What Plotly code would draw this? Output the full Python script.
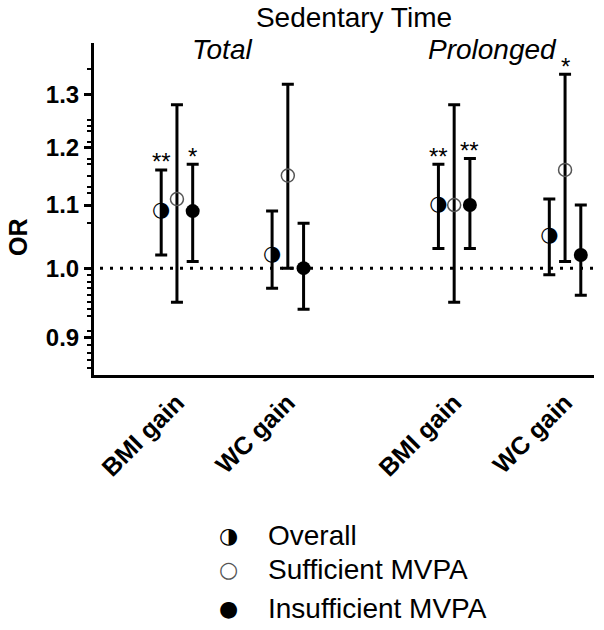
import math
import plotly.graph_objects as go

# ---------------- data ----------------
outcomes = ["BMI gain", "WC gain", "BMI gain", "WC gain"]
panels = ["Total", "Prolonged"]

overall_or = [1.09, 1.02, 1.10, 1.05]
overall_lo = [1.02, 0.97, 1.03, 0.99]
overall_hi = [1.16, 1.09, 1.17, 1.11]
overall_sig = ["**", "", "**", ""]

suff_or = [1.11, 1.15, 1.10, 1.16]
suff_lo = [0.95, 1.00, 0.95, 1.01]
suff_hi = [1.28, 1.32, 1.28, 1.34]
suff_sig = ["", "", "", "*"]

insuff_or = [1.09, 1.00, 1.10, 1.02]
insuff_lo = [1.01, 0.94, 1.03, 0.96]
insuff_hi = [1.17, 1.07, 1.18, 1.10]
insuff_sig = ["*", "", "**", ""]

y_ticks = [0.9, 1.0, 1.1, 1.2, 1.3]
y_ticktext = ["0.9", "1.0", "1.1", "1.2", "1.3"]
null_or = 1.0

series_names = ["Overall", "Sufficient MVPA", "Insufficient MVPA"]

# ---------------- layout helpers ----------------
group_x = [0, 1, 2.5, 3.5]
offset = 0.142
FONT = "Arial, Liberation Sans, sans-serif"
SYM_FONT = "DejaVu Sans"

def xs(shift):
    return [g + shift for g in group_x]

def err(vals, lo, hi):
    return dict(type="data", symmetric=False,
                array=[h - v for v, h in zip(vals, hi)],
                arrayminus=[v - l for v, l in zip(vals, lo)],
                color="black", thickness=3, width=6)

fig = go.Figure()

# Overall (half-filled circle)
fig.add_trace(go.Scatter(
    x=xs(-offset), y=overall_or, mode="markers", name=series_names[0],
    marker=dict(size=2, color="rgba(0,0,0,0)"),
    error_y=err(overall_or, overall_lo, overall_hi), showlegend=False))
fig.add_trace(go.Scatter(
    x=xs(-offset), y=overall_or, mode="text", text=["\u25D1"] * len(overall_or),
    textposition="middle center", name=series_names[0],
    textfont=dict(family=SYM_FONT, size=21, color="black"), showlegend=False))

# Sufficient MVPA (open circle)
fig.add_trace(go.Scatter(
    x=xs(0), y=suff_or, mode="markers", name=series_names[1],
    marker=dict(symbol="circle-open", size=13, color="#555555",
                line=dict(width=1.5, color="#555555")),
    error_y=err(suff_or, suff_lo, suff_hi), showlegend=False))

# Insufficient MVPA (filled circle)
fig.add_trace(go.Scatter(
    x=xs(offset), y=insuff_or, mode="markers", name=series_names[2],
    marker=dict(symbol="circle", size=14, color="black"),
    error_y=err(insuff_or, insuff_lo, insuff_hi), showlegend=False))

# significance asterisks
annotations = []
for shift, sigs, his in [(-offset, overall_sig, overall_hi),
                         (0, suff_sig, suff_hi),
                         (offset, insuff_sig, insuff_hi)]:
    for gx, s, h in zip(group_x, sigs, his):
        if s:
            annotations.append(dict(
                x=gx + shift, y=math.log10(h), xref="x", yref="y", text=s,
                showarrow=False, xanchor="center", yanchor="middle", yshift=8,
                font=dict(family=FONT, size=24, color="black")))

# panel labels
annotations.append(dict(x=0.256, y=1, xref="paper", yref="paper", text="<i>Total</i>",
                        showarrow=False, xanchor="center", yanchor="middle", yshift=-6,
                        font=dict(family=FONT, size=28, color="black")))
annotations.append(dict(x=0.796, y=1, xref="paper", yref="paper", text="<i>Prolonged</i>",
                        showarrow=False, xanchor="center", yanchor="middle", yshift=-6,
                        font=dict(family=FONT, size=28, color="black")))

# y-axis title
annotations.append(dict(x=0, y=0.416, xref="paper", yref="paper", text="<b>OR</b>",
                        textangle=-90, showarrow=False, xanchor="center", xshift=-76,
                        font=dict(family=FONT, size=25, color="black")))

# manual legend
legend_syms = ["\u25D1", "\u25CB", "\u25CF"]
legend_y = [-0.482, -0.587, -0.702]
for sym, name, ly in zip(legend_syms, series_names, legend_y):
    annotations.append(dict(x=0.268, y=ly, xref="paper", yref="paper", text=sym,
                            showarrow=False, xanchor="center", yanchor="middle",
                            font=dict(family=SYM_FONT, size=22,
                                      color="#555555" if sym == "\u25CB" else "black")))
    annotations.append(dict(x=0.344, y=ly, xref="paper", yref="paper", text=name,
                            showarrow=False, xanchor="left", yanchor="middle",
                            font=dict(family=FONT, size=28, color="black")))

fig.add_shape(type="line", xref="paper", x0=0.012, x1=1, yref="y",
              y0=null_or, y1=null_or, line=dict(color="black", width=3, dash="3px,7px"))

minor_vals = [0.86, 0.87, 0.88, 0.89, 0.91, 0.93, 0.94, 0.95, 0.96, 0.97, 0.98, 0.99,
              1.07, 1.12, 1.13, 1.15, 1.17, 1.18, 1.21, 1.23, 1.24, 1.25, 1.35]

fig.update_layout(
    width=604, height=630,
    margin=dict(l=94, r=10, t=43, b=255),
    plot_bgcolor="white", paper_bgcolor="white",
    font=dict(family=FONT, color="black"),
    title=dict(text="Sedentary Time", x=0.52, xref="paper", xanchor="center",
               y=1 - 17 / 630, yref="container", yanchor="middle",
               font=dict(family=FONT, size=28, color="black")),
    annotations=annotations,
    xaxis=dict(range=[-0.748, 3.761], tickvals=group_x, ticktext=outcomes,
               tickangle=-45, ticks="", showline=True, linewidth=3, linecolor="black",
               showgrid=False, zeroline=False,
               tickfont=dict(family=FONT, size=25, color="black", weight="bold")),
    yaxis=dict(type="log", range=[math.log10(0.851), math.log10(1.405)],
               tickvals=y_ticks, ticktext=y_ticktext, ticks="outside", ticklen=7,
               tickwidth=3, tickcolor="black", showline=True, linewidth=3,
               linecolor="black", showgrid=False, zeroline=False,
               tickfont=dict(family=FONT, size=24, color="black", weight="bold"),
               minor=dict(tickvals=minor_vals, ticks="outside", ticklen=4,
                          tickwidth=2, tickcolor="black", showgrid=False)),
)

fig.write_html("out.html", config={"displayModeBar": False},
               post_script="document.body.style.margin='0';document.body.style.overflow='hidden';")
